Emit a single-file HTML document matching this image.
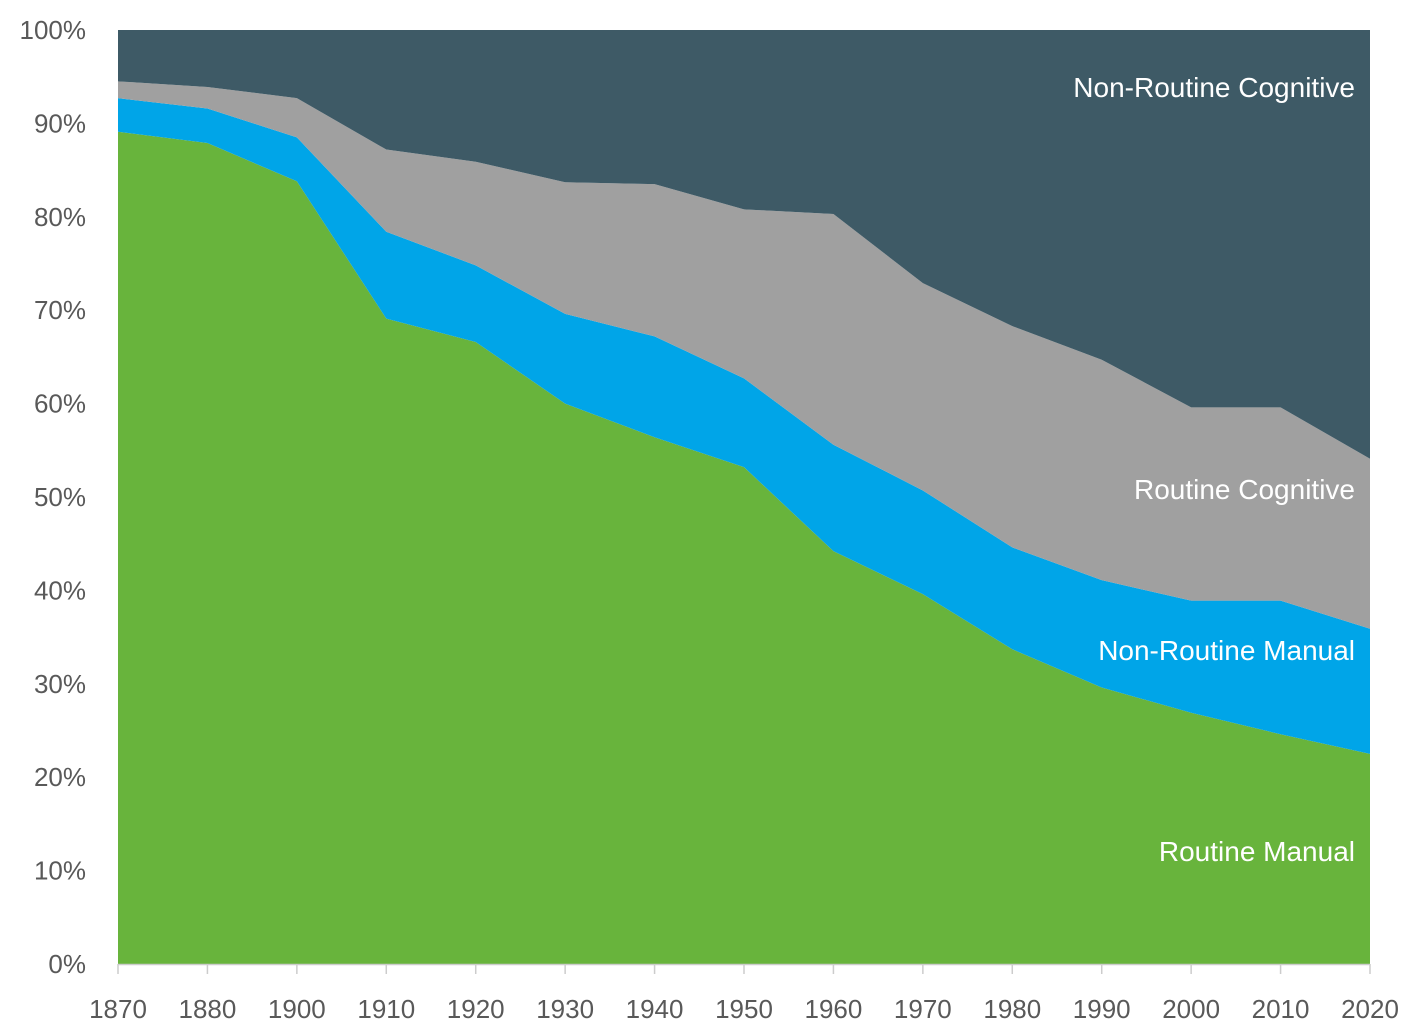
<!DOCTYPE html>
<html><head><meta charset="utf-8"><style>
html,body{margin:0;padding:0;background:#fff;}
svg{display:block;font-family:"Liberation Sans",sans-serif;}
</style></head><body>
<svg id="chart" width="1419" height="1030" viewBox="0 0 1419 1030">
<g id="areas"></g>
<g id="axes"></g>
<g id="labels"></g>
</svg>
<script>
const categories = ["1870","1880","1900","1910","1920","1930","1940","1950","1960","1970","1980","1990","2000","2010","2020"];
const routineManual = [89.1,87.9,83.8,69.1,66.6,60.0,56.4,53.2,44.2,39.6,33.7,29.6,26.9,24.6,22.5];
const nonRoutineManual = [3.6,3.7,4.7,9.3,8.2,9.6,10.8,9.5,11.4,11.1,10.9,11.5,12.0,14.3,13.4];
const routineCognitive = [1.8,2.3,4.2,8.8,11.1,14.1,16.3,18.1,24.7,22.2,23.7,23.6,20.7,20.7,18.2];
const nonRoutineCognitive = [5.5,6.1,7.3,12.8,14.1,16.3,16.5,19.2,19.7,27.1,31.7,35.3,40.4,40.4,45.9];
const yTicks = [0,10,20,30,40,50,60,70,80,90,100];
const seriesNames = ["Routine Manual","Non-Routine Manual","Routine Cognitive","Non-Routine Cognitive"];

const NS="http://www.w3.org/2000/svg";
const X0=118,X1=1370,Y0=964,Y1=30;
const x=i=>X0+(X1-X0)*i/(categories.length-1);
const y=v=>Y0-(Y0-Y1)*v/100;
function mk(tag,parent){const e=document.createElementNS(NS,tag);parent.appendChild(e);return e;}

const series=[routineManual,nonRoutineManual,routineCognitive,nonRoutineCognitive];
const colors=["#68b43c","#00a5e8","#a0a0a0","#3e5a66"];
const slugs=["routine-manual-area","non-routine-manual-area","routine-cognitive-area","non-routine-cognitive-area"];
const areas=document.getElementById("areas");
let base=categories.map(()=>0);
series.forEach((s,k)=>{
  const top=base.map((b,i)=>b+s[i]);
  let d="";
  top.forEach((v,i)=>{d+=(i?"L":"M")+x(i)+","+y(v)+" ";});
  for(let i=base.length-1;i>=0;i--) d+="L"+x(i)+","+y(base[i])+" ";
  const p=mk("path",areas);
  p.setAttribute("d",d+"Z");
  p.setAttribute("fill",colors[k]);
  
  
  base=top;
});

const axes=document.getElementById("axes");
const al=mk("line",axes);
al.setAttribute("x1",X0);al.setAttribute("x2",X1);al.setAttribute("y1",Y0+0.5);al.setAttribute("y2",Y0+0.5);
al.setAttribute("stroke","#cccccc");al.setAttribute("stroke-width","1.5");


categories.forEach((c,i)=>{
  const t=mk("line",axes);
  t.setAttribute("x1",x(i));t.setAttribute("x2",x(i));t.setAttribute("y1",Y0);t.setAttribute("y2",Y0+10);
  t.setAttribute("stroke","#cccccc");t.setAttribute("stroke-width","1.5");
  
  
  const l=mk("text",axes);
  l.setAttribute("x",x(i));l.setAttribute("y",1018);l.setAttribute("text-anchor","middle");
  l.setAttribute("font-size","26");l.setAttribute("fill","#595959");
  l.textContent=c;
  
  
});
yTicks.forEach(v=>{
  const l=mk("text",axes);
  l.setAttribute("x",86);l.setAttribute("y",y(v)+9);l.setAttribute("text-anchor","end");
  l.setAttribute("font-size","26");l.setAttribute("fill","#595959");
  l.textContent=v+"%";
  
  
});

const labels=document.getElementById("labels");
const labelY=[851,650,489,87];
const labelSlugs=["routine-manual-label","non-routine-manual-label","routine-cognitive-label","non-routine-cognitive-label"];
seriesNames.forEach((n,k)=>{
  const l=mk("text",labels);
  l.setAttribute("x",1355);l.setAttribute("y",labelY[k]+10);l.setAttribute("text-anchor","end");
  l.setAttribute("font-size","28");l.setAttribute("fill","#ffffff");
  l.textContent=n;
  
  
});
</script>
</body></html>
